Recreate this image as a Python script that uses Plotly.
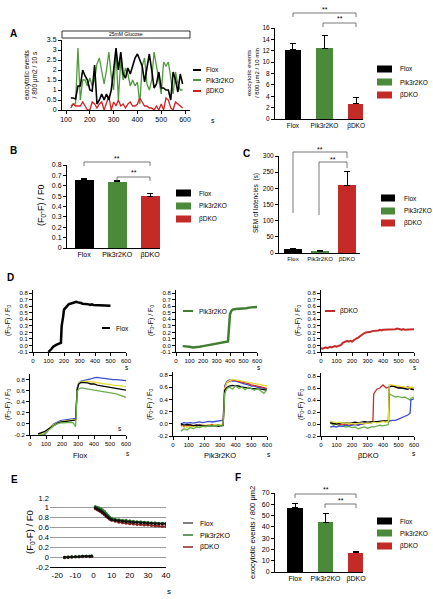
import plotly.graph_objects as go

W, H = 433, 599
FONT = "Liberation Sans"
BLACK = "#000000"
GREEN_BAR = "#4a8a3a"
RED_BAR = "#c42a26"

# ---------------- DATA ----------------
groups = ["Flox", "Pik3r2KO", "βDKO"]

# Panel A (time course, events / 10 s)
a_time = [120, 130, 140, 150, 160, 170, 180, 190, 200, 210, 220, 230, 240, 250, 260, 270,
          280, 290, 300, 310, 320, 330, 340, 350, 360, 370, 380, 390, 400, 410, 420, 430,
          440, 450, 460, 470, 480, 490, 500, 510, 520, 530, 540, 550, 560, 570, 580, 590]
a_flox = [0.6, 0.6, 0.55, 1.2, 1.2, 2.0, 1.7, 1.5, 1.0, 0.95, 2.25, 0.3, 0.5, 0.8, 0.5, 0.8,
          0.5, 1.0, 2.0, 3.1, 2.0, 2.9, 1.8, 1.6, 2.1, 1.8, 2.2, 2.6, 2.8, 2.5, 2.2, 1.4,
          2.2, 2.8, 2.0, 1.1, 1.3, 1.9, 1.1, 1.1, 1.0, 1.0, 0.5, 1.9, 1.5, 0.9, 1.8, 1.3]
a_pik = [0.2, 0.3, 0.3, 3.1, 0.5, 1.5, 1.5, 1.2, 1.6, 1.2, 1.5, 2.3, 2.6, 1.9, 1.3, 2.0,
         2.9, 1.7, 1.0, 2.9, 0.5, 2.5, 1.5, 2.1, 1.8, 1.2, 1.5, 1.2, 1.4, 0.3, 2.2, 2.6,
         1.3, 1.0, 1.5, 2.9, 2.2, 1.5, 0.8, 2.4, 2.2, 2.4, 1.6, 0.8, 1.9, 1.3, 1.0, 1.0]
a_bdko = [0.1, 0.3, 0.2, 0.2, 0.2, 0.4, 0.2, 0.0, 0.0, 0.4, 0.3, 0.1, 0.3, 0.4, 0.0, 0.3,
          0.7, 0.0, 0.4, 0.2, 0.5, 0.2, 0.3, 0.1, 0.3, 0.4, 0.2, 0.2, 0.3, 0.6, 0.4, 0.2,
          0.2, 0.1, 0.1, 0.0, 0.2, 0.0, 0.3, 0.0, 0.6, 0.5, 0.1, 0.0, 0.4, 0.3, 0.2, 0.1]

# Panel A bars (events / 10 min)
a_bar_mean = [12.2, 12.4, 2.7]
a_bar_err = [1.1, 2.3, 1.1]
# Panel B
b_mean = [0.66, 0.64, 0.50]
b_err = [0.01, 0.01, 0.025]
# Panel C
c_mean = [13, 6, 210]
c_err = [2, 1, 42]
# Panel F
f_mean = [57, 44, 17]
f_err = [4, 8, 1]

# Panel D top
d1_t = [100, 110, 120, 130, 140, 150, 160, 170, 180, 185, 190, 195, 200, 210, 220, 230, 240,
        250, 260, 270, 280, 290, 300, 310, 320, 330, 340, 350, 360, 370, 380, 390, 400, 410,
        420, 430, 440, 450, 460, 470, 480, 490, 500]
d1_flox = [-0.10, -0.08, -0.05, -0.02, 0.0, 0.01, 0.02, 0.03, 0.04, 0.30, 0.35, 0.45, 0.55,
           0.58, 0.61, 0.63, 0.64, 0.65, 0.66, 0.67, 0.67, 0.66, 0.66, 0.65, 0.64, 0.64, 0.63,
           0.63, 0.63, 0.62, 0.63, 0.62, 0.62, 0.61, 0.62, 0.61, 0.62, 0.61, 0.61, 0.62, 0.61,
           0.62, 0.61]
d2_t = [50, 75, 100, 125, 150, 175, 200, 225, 250, 275, 300, 325, 350, 375, 385, 390, 395, 400,
        410, 420, 440, 460, 480, 500, 520, 540, 560, 580, 600]
d2_pik = [-0.01, -0.01, -0.02, -0.03, -0.03, -0.02, -0.01, 0.0, 0.01, 0.02, 0.03, 0.03, 0.04,
          0.05, 0.06, 0.2, 0.4, 0.48, 0.53, 0.55, 0.56, 0.56, 0.56, 0.57, 0.57, 0.58, 0.58,
          0.59, 0.59]
d3_t = [0, 10, 20, 30, 40, 50, 60, 70, 80, 90, 100, 110, 120, 130, 140, 150, 160, 170, 180, 190,
        200, 210, 220, 230, 240, 250, 260, 270, 280, 290, 300, 310, 320, 330, 340, 350, 360, 370,
        380, 390, 400, 410, 420, 430, 440, 450, 460, 470, 480, 490, 500, 510, 520, 530, 540, 550,
        560, 570, 580, 590, 600]
d3_bdko = [-0.04, -0.05, -0.04, -0.03, -0.04, -0.03, -0.02, -0.03, -0.02, -0.01, -0.02, -0.01,
           0.0, 0.01, 0.04, 0.05, 0.05, 0.07, 0.06, 0.07, 0.06, 0.08, 0.1, 0.11, 0.12, 0.14, 0.15,
           0.17, 0.19, 0.2, 0.2, 0.21, 0.21, 0.22, 0.22, 0.22, 0.23, 0.23, 0.24, 0.23, 0.24, 0.24,
           0.25, 0.24, 0.24, 0.25, 0.24, 0.25, 0.25, 0.26, 0.26, 0.25, 0.24, 0.25, 0.24, 0.24,
           0.25, 0.24, 0.25, 0.24, 0.25]

# Panel D bottom: individual cells
d4_t = [50, 70, 90, 110, 130, 150, 170, 190, 210, 230, 250, 270, 285, 295, 305, 320, 340, 360,
        380, 400, 420, 440, 460, 480, 500, 520, 540, 560, 580, 600]
d4_cells = {
    "#3c4fd0": [-0.2, -0.2, -0.2, -0.13, -0.05, 0.0, 0.03, 0.06, 0.07, 0.08, 0.08, 0.09, 0.1,
                0.66, 0.74, 0.77, 0.78, 0.8, 0.81, 0.83, 0.84, 0.83, 0.82, 0.82, 0.81, 0.8, 0.8,
                0.79, 0.79, 0.78],
    "#e6dc3c": [-0.2, -0.18, -0.16, -0.11, -0.05, -0.01, 0.02, 0.04, 0.05, 0.06, 0.06, 0.07,
                0.08, 0.64, 0.74, 0.76, 0.77, 0.77, 0.76, 0.75, 0.74, 0.73, 0.72, 0.71, 0.71,
                0.7, 0.69, 0.69, 0.68, 0.67],
    "#000000": [-0.18, -0.16, -0.14, -0.10, -0.06, -0.02, 0.01, 0.03, 0.04, 0.05, 0.06, 0.06,
                0.07, 0.62, 0.72, 0.75, 0.75, 0.74, 0.72, 0.72, 0.70, 0.69, 0.68, 0.67, 0.66,
                0.65, 0.64, 0.63, 0.62, 0.61],
    "#6ab04a": [-0.2, -0.2, -0.18, -0.13, -0.07, -0.03, 0.0, 0.02, 0.02, 0.03, 0.03, 0.02,
                -0.05, 0.58, 0.63, 0.65, 0.64, 0.63, 0.62, 0.62, 0.6, 0.6, 0.58, 0.57, 0.56,
                0.55, 0.54, 0.52, 0.5, 0.48],
}
d5_t = [50, 70, 90, 110, 130, 150, 170, 190, 210, 230, 250, 270, 290, 310, 320, 330, 345, 360,
        380, 400, 420, 440, 460, 480, 500, 520, 540, 560, 580, 600]
d5_cells = {
    "#3c4fd0": [0.0, 0.02, 0.01, 0.02, 0.01, 0.02, 0.03, 0.02, 0.03, 0.04, 0.03, 0.04, 0.05,
                0.05, 0.06, 0.62, 0.7, 0.72, 0.7, 0.7, 0.68, 0.66, 0.65, 0.64, 0.62, 0.62, 0.6,
                0.6, 0.58, 0.56],
    "#d02a2a": [-0.02, -0.05, -0.03, -0.02, -0.03, -0.04, -0.02, -0.03, -0.03, -0.02, -0.01,
                -0.03, -0.02, -0.03, -0.02, 0.6, 0.68, 0.7, 0.72, 0.71, 0.7, 0.68, 0.67, 0.66,
                0.64, 0.63, 0.62, 0.61, 0.6, 0.58],
    "#e6dc3c": [-0.05, -0.03, -0.06, -0.04, -0.05, -0.03, -0.04, -0.02, -0.03, -0.02, -0.03,
                -0.01, -0.02, -0.01, 0.0, 0.58, 0.68, 0.71, 0.73, 0.72, 0.71, 0.7, 0.69, 0.67,
                0.66, 0.65, 0.64, 0.63, 0.62, 0.62],
    "#000000": [0.0, -0.02, -0.01, -0.02, -0.03, -0.02, -0.03, -0.03, -0.04, -0.03, -0.04,
                -0.03, -0.04, -0.03, -0.03, 0.55, 0.6, 0.62, 0.63, 0.62, 0.62, 0.6, 0.6, 0.59,
                0.58, 0.58, 0.57, 0.57, 0.56, 0.55],
    "#6ab04a": [-0.12, -0.08, -0.1, -0.06, -0.08, -0.05, -0.06, -0.04, -0.05, -0.03, -0.04,
                -0.03, -0.02, -0.04, -0.02, 0.5, 0.58, 0.6, 0.57, 0.62, 0.58, 0.6, 0.56, 0.6,
                0.58, 0.55, 0.58, 0.54, 0.5, 0.56],
}
d6_t = [60, 80, 100, 120, 140, 160, 180, 200, 220, 240, 260, 280, 300, 320, 335, 340, 360, 380,
        400, 420, 435, 440, 460, 480, 500, 520, 540, 560, 575, 580, 600]
d6_cells = {
    "#d02a2a": [0.02, 0.0, 0.01, -0.01, 0.0, -0.02, 0.0, -0.01, 0.0, -0.02, 0.0, 0.01, 0.02,
                0.02, 0.03, 0.5, 0.58, 0.6, 0.65, 0.6, 0.62, 0.62, 0.64, 0.62, 0.62, 0.61, 0.6,
                0.62, 0.6, 0.6, 0.58],
    "#6ab04a": [0.03, -0.02, 0.0, -0.04, -0.03, -0.05, -0.04, -0.06, -0.05, -0.08, -0.06, -0.05,
                -0.07, -0.05, -0.04, -0.05, -0.03, -0.02, -0.03, -0.02, -0.01, 0.5, 0.48, 0.45,
                0.46, 0.44, 0.45, 0.42, 0.4, 0.43, 0.45],
    "#3c4fd0": [-0.05, -0.04, -0.05, -0.03, -0.04, -0.02, -0.03, -0.02, -0.01, -0.02, 0.0, 0.01,
                0.02, 0.02, 0.03, 0.03, 0.03, 0.04, 0.04, 0.05, 0.05, 0.05, 0.06, 0.06, 0.08,
                0.1, 0.12, 0.15, 0.18, 0.4, 0.42],
    "#000000": [0.02, 0.01, 0.0, 0.02, 0.01, 0.02, 0.01, 0.02, 0.03, 0.02, 0.03, 0.04, 0.03,
                0.04, 0.04, 0.04, 0.04, 0.05, 0.05, 0.05, 0.05, 0.62, 0.63, 0.62, 0.6, 0.6, 0.59,
                0.58, 0.6, 0.58, 0.57],
    "#e6dc3c": [0.05, 0.03, 0.02, 0.03, 0.01, 0.02, 0.0, 0.01, 0.0, 0.01, 0.02, 0.0, 0.02, 0.01,
                0.03, 0.03, 0.02, 0.03, 0.04, 0.03, 0.05, 0.66, 0.65, 0.64, 0.63, 0.62, 0.62,
                0.61, 0.6, 0.62, 0.6],
}

# Panel E (aligned events)
e_t = [-16, -14, -12, -10, -8, -6, -4, -2, -1, 0, 1, 2, 3, 4, 5, 6, 7, 8, 9, 10, 12, 14, 16,
       18, 20, 22, 24, 26, 28, 30, 32, 34, 36, 38, 40]
e_flox = [0.0, 0.0, 0.01, 0.01, 0.01, 0.02, 0.02, 0.02, 0.02, None, 1.0, 0.98, 0.96, 0.94,
          0.91, 0.88, 0.84, 0.81, 0.78, 0.76, 0.75, 0.74, 0.73, 0.72, 0.72, 0.71, 0.71, 0.7,
          0.7, 0.69, 0.69, 0.68, 0.68, 0.68, 0.67]
e_pik = [0.0, 0.01, 0.01, 0.01, 0.02, 0.02, 0.02, 0.02, 0.03, None, 1.03, 1.01, 1.0, 0.98,
         0.96, 0.93, 0.89, 0.85, 0.81, 0.79, 0.77, 0.76, 0.75, 0.75, 0.74, 0.73, 0.72, 0.72,
         0.71, 0.71, 0.7, 0.7, 0.69, 0.69, 0.69]
e_bdko = [-0.01, 0.0, 0.0, 0.01, 0.01, 0.01, 0.02, 0.01, 0.02, None, 0.98, 0.96, 0.94, 0.92,
          0.89, 0.86, 0.83, 0.8, 0.77, 0.75, 0.73, 0.71, 0.7, 0.69, 0.68, 0.67, 0.66, 0.66,
          0.65, 0.65, 0.64, 0.63, 0.63, 0.62, 0.62]

# ---------------- helpers ----------------
def X(p):
    return p / W


def Y(p):
    return 1 - p / H


fig = go.Figure()
layout = {}
shapes = []
annos = []


def axes(i, x0, x1, y0, y1, xr, yr, xtick=None, ytick=None, xfs=7, yfs=7,
         xticks="outside", grid=False):
    xa = dict(domain=[X(x0), X(x1)], range=xr, anchor=f"y{i}", showline=True,
              linecolor="black", linewidth=1, ticks=xticks, ticklen=3, tickcolor="black",
              showgrid=False, zeroline=False, tickangle=0, automargin=False,
              tickfont=dict(family=FONT, size=xfs, color="black"))
    ya = dict(domain=[Y(y1), Y(y0)], range=yr, anchor=f"x{i}", showline=True,
              linecolor="black", linewidth=1, ticks="outside", ticklen=3, tickcolor="black",
              showgrid=grid, gridcolor="#9a9a9a", zeroline=False, automargin=False,
              tickfont=dict(family=FONT, size=yfs, color="black"))
    if xtick is not None:
        xa.update(tickmode="array", tickvals=xtick[0], ticktext=xtick[1])
    if ytick is not None:
        ya.update(tickmode="array", tickvals=ytick[0], ticktext=ytick[1])
    layout[f"xaxis{i}"] = xa
    layout[f"yaxis{i}"] = ya


def txt(x, y, s, size=7, angle=0, bold=False, xanchor="center"):
    if bold:
        s = f"<b>{s}</b>"
    annos.append(dict(x=X(x), y=Y(y), xref="paper", yref="paper", text=s, showarrow=False,
                      textangle=angle, xanchor=xanchor, yanchor="middle",
                      font=dict(family=FONT, size=size, color="black")))


def box_legend(x0, x1, tx, ys, colors, names, size=6.5):
    for yy, c, n in zip(ys, colors, names):
        shapes.append(dict(type="rect", xref="paper", yref="paper", x0=X(x0), x1=X(x1),
                           y0=Y(yy + 3.5), y1=Y(yy - 3.5), fillcolor=c, line=dict(width=0)))
        txt(tx, yy, n, size=size, xanchor="left")


def line_legend(x0, x1, tx, ys, colors, names, size=6.5, width=2):
    for yy, c, n in zip(ys, colors, names):
        shapes.append(dict(type="line", xref="paper", yref="paper", x0=X(x0), x1=X(x1),
                           y0=Y(yy), y1=Y(yy), line=dict(color=c, width=width)))
        txt(tx, yy, n, size=size, xanchor="left")


def bracket(xa, xb, y, la, lb, star_y):
    for (x0, y0, x1, y1) in [(xa, la, xa, y), (xa, y, xb, y), (xb, y, xb, lb)]:
        shapes.append(dict(type="line", xref="paper", yref="paper", x0=X(x0), y0=Y(y0),
                           x1=X(x1), y1=Y(y1), line=dict(color="#555555", width=0.8)))
    txt((xa + xb) / 2, star_y, "**", size=7)


def bars(i, mean, err, width):
    fig.add_trace(go.Bar(x=[0, 1, 2], y=mean, width=width,
                         marker=dict(color=[BLACK, GREEN_BAR, RED_BAR], line=dict(width=0)),
                         error_y=dict(type="data", array=err, arrayminus=[0, 0, 0],
                                      symmetric=False, color="black", thickness=1, width=3),
                         xaxis=f"x{i}", yaxis=f"y{i}"))


cat_ticks = ([0, 1, 2], groups)
SUB = "(F<sub>0</sub>-F) / F<sub>0</sub>"

# ---------------- Panel A line ----------------
axes(1, 62, 190, 40, 110, [83, 621], [0, 3.5],
     xtick=([100, 200, 300, 400, 500, 600], ["100", "200", "300", "400", "500", "600"]),
     ytick=([0, 0.5, 1, 1.5, 2, 2.5, 3, 3.5], ["0", "0.5", "1", "1.5", "2", "2.5", "3", "3.5"]))
for ys, c, w in [(a_pik, "#4f9a3a", 1.3), (a_bdko, "#d42020", 1.3), (a_flox, BLACK, 1.6)]:
    fig.add_trace(go.Scatter(x=a_time, y=ys, mode="lines", line=dict(color=c, width=w),
                             xaxis="x1", yaxis="y1"))
shapes.append(dict(type="rect", xref="paper", yref="paper", x0=X(62), x1=X(190), y0=Y(38),
                   y1=Y(31), line=dict(color="black", width=0.8), fillcolor="white"))
txt(126, 34.5, "25mM Glucose", size=5)
txt(31, 75, "exocytotic events<br>/ 800 μm2 / 10 s", size=6.5, angle=-90)
txt(213, 121, "s", size=7)
txt(13, 33, "A", size=10, bold=True)
line_legend(193, 201, 204, [70, 80, 91], [BLACK, "#4f9a3a", "#d42020"], groups)

# ---------------- Panel A bars ----------------
axes(2, 275, 363, 28, 119, [-0.57, 2.22], [0, 16], xtick=cat_ticks, xticks="", xfs=6.5,
     yfs=6.5,
     ytick=([0, 2, 4, 6, 8, 10, 12, 14, 16], ["0", "2", "4", "6", "8", "10", "12", "14", "16"]))
bars(2, a_bar_mean, a_bar_err, 0.52)
txt(253, 73, "exocytotic events<br>/ 800 μm2 / 10 min", size=6, angle=-90)
box_legend(377, 392, 398, [69, 82, 95], [BLACK, GREEN_BAR, RED_BAR], groups)
bracket(293, 356, 13, 17, 17, 9)
bracket(323, 356, 23, 27, 27, 19)

# ---------------- Panel B ----------------
axes(3, 67, 160, 165, 248, [-0.52, 2.3], [0, 0.8], xtick=cat_ticks, xticks="",
     ytick=([0, 0.1, 0.2, 0.3, 0.4, 0.5, 0.6, 0.7, 0.8],
            ["0", "0.1", "0.2", "0.3", "0.4", "0.5", "0.6", "0.7", "0.8"]))
bars(3, b_mean, b_err, 0.58)
txt(42, 205, "(F<sub>0</sub>-F) / F0", size=9, angle=-90)
box_legend(176, 191, 197, [193, 206, 219], [BLACK, GREEN_BAR, RED_BAR], groups)
bracket(84, 150, 162, 166, 166, 158)
bracket(117, 150, 177, 181, 181, 173)
txt(13, 150, "B", size=10, bold=True)

# ---------------- Panel C ----------------
axes(4, 279, 360, 156, 253, [-0.52, 2.48], [0, 300], xtick=cat_ticks, xticks="", xfs=6,
     yfs=6.5,
     ytick=([0, 50, 100, 150, 200, 250, 300], ["0", "50", "100", "150", "200", "250", "300"]))
bars(4, c_mean, c_err, 0.7)
txt(256, 203, "SEM of latencies  (s)", size=6.5, angle=-90)
box_legend(381, 395, 402, [198, 211, 223], [BLACK, GREEN_BAR, RED_BAR], groups)
bracket(293, 347, 152, 213, 158, 149)
bracket(319, 347, 162, 215, 168, 159)
txt(247, 153, "C", size=10, bold=True)

# ---------------- Panel D top ----------------
dtick_top = ([-0.1, 0, 0.1, 0.2, 0.3, 0.4, 0.5, 0.6, 0.7, 0.8],
             ["-0.1", "0.0", "0.1", "0.2", "0.3", "0.4", "0.5", "0.6", "0.7", "0.8"])
tx600 = ([0, 100, 200, 300, 400, 500, 600], ["0", "100", "200", "300", "400", "500", "600"])
axes(5, 33, 126, 290, 352, [0, 600], [-0.1, 0.85], xtick=tx600, ytick=dtick_top, xfs=6, yfs=6)
axes(6, 176, 257, 290, 352, [0, 600], [-0.1, 0.85], xtick=tx600, ytick=dtick_top, xfs=6, yfs=6)
axes(7, 321, 414, 290, 352, [0, 600], [-0.1, 0.85], xtick=tx600, ytick=dtick_top, xfs=6, yfs=6)
fig.add_trace(go.Scatter(x=d1_t, y=d1_flox, mode="lines", line=dict(color=BLACK, width=2.5),
                         xaxis="x5", yaxis="y5"))
fig.add_trace(go.Scatter(x=d2_t, y=d2_pik, mode="lines", line=dict(color="#3f7f2f", width=2.5),
                         xaxis="x6", yaxis="y6"))
fig.add_trace(go.Scatter(x=d3_t, y=d3_bdko, mode="lines", line=dict(color="#c42a26", width=2),
                         xaxis="x7", yaxis="y7"))
for xx in [8, 151, 298]:
    txt(xx, 321, SUB, size=7, angle=-90)
line_legend(102, 110, 114, [328], [BLACK], ["Flox"], width=2)
line_legend(183, 193, 197, [311], ["#3f7f2f"], ["Pik3r2KO"], width=2)
line_legend(325, 335, 338, [311], ["#c42a26"], ["βDKO"], width=2)
for xx in [127, 259, 415]:
    txt(xx, 367, "s", size=6.5)
txt(10, 278, "D", size=10, bold=True)

# ---------------- Panel D bottom ----------------
dtick_bot = ([-0.2, 0, 0.2, 0.4, 0.6, 0.8], ["-0.2", "0.0", "0.2", "0.4", "0.6", "0.8"])
axes(8, 30, 126, 374, 435, [0, 600], [-0.2, 0.9], xtick=tx600, ytick=dtick_bot, xfs=6, yfs=6)
axes(9, 173, 267, 372, 436, [0, 600], [-0.2, 0.85], xtick=tx600, ytick=dtick_bot, xfs=6, yfs=6)
axes(10, 321, 414, 373, 436, [0, 600], [-0.2, 0.85], xtick=tx600, ytick=dtick_bot, xfs=6, yfs=6)
for i, t, cells in [(8, d4_t, d4_cells), (9, d5_t, d5_cells), (10, d6_t, d6_cells)]:
    for c, ys in cells.items():
        fig.add_trace(go.Scatter(x=t, y=ys, mode="lines", line=dict(color=c, width=1.3),
                                 xaxis=f"x{i}", yaxis=f"y{i}"))
for xx in [8, 150, 301]:
    txt(xx, 405, SUB, size=7, angle=-90)
txt(80, 455, "Flox", size=7.5)
txt(220, 455, "Pik3r2KO", size=7.5)
txt(368, 455, "βDKO", size=7.5)
txt(120, 428, "s", size=6.5)
txt(128, 453, "s", size=6.5)
txt(269, 454, "s", size=6.5)
txt(414, 453, "s", size=6.5)

# ---------------- Panel E ----------------
axes(11, 50, 166, 498, 567, [-24, 40], [-0.2, 1.2],
     xtick=([-20, -10, 0, 10, 20, 30, 40], ["-20", "-10", "0", "10", "20", "30", "40"]),
     ytick=([-0.2, 0, 0.2, 0.4, 0.6, 0.8, 1.0, 1.2],
            ["-0.2", "0", "0.2", "0.4", "0.6", "0.8", "1", "1.2"]),
     xfs=8, yfs=7.5, grid=True)
layout["yaxis11"]["showline"] = False
layout["yaxis11"]["ticks"] = ""
layout["xaxis11"]["ticks"] = ""
for ys, c in [(e_bdko, "#8b2525"), (e_pik, "#2f7a2a"), (e_flox, "#111111")]:
    fig.add_trace(go.Scatter(x=e_t, y=ys, mode="lines+markers", connectgaps=False,
                             line=dict(color=c, width=1.5), marker=dict(color=c, size=3),
                             xaxis="x11", yaxis="y11"))
txt(30, 532, "(F<sub>0</sub>-F) / F0", size=9.5, angle=-90)
line_legend(183, 193, 198, [523, 535, 547], ["#555555", "#2f7a2a", "#8b2525"], groups,
            size=7, width=1.5)
txt(169, 591, "s", size=8)
txt(15, 479, "E", size=10, bold=True)

# ---------------- Panel F ----------------
axes(12, 275, 363, 493, 572, [-0.66, 2.23], [0, 70], xtick=cat_ticks, xticks="",
     ytick=([0, 10, 20, 30, 40, 50, 60, 70], ["0", "10", "20", "30", "40", "50", "60", "70"]))
bars(12, f_mean, f_err, 0.5)
txt(252, 533, "exocytotic events / 800 μm2", size=7.5, angle=-90)
box_legend(377, 392, 398, [521, 533, 546], [BLACK, GREEN_BAR, RED_BAR], groups)
bracket(295, 356, 494, 498, 498, 490)
bracket(325, 356, 504, 508, 508, 500)
txt(238, 477, "F", size=10, bold=True)

fig.update_layout(width=W, height=H, margin=dict(l=0, r=0, t=0, b=0),
                  paper_bgcolor="white", plot_bgcolor="white", showlegend=False,
                  shapes=shapes, annotations=annos, bargap=0,
                  font=dict(family=FONT, size=7, color="black"), **layout)
fig.write_html("out.html", config={"displayModeBar": False},
               post_script="document.body.style.margin='0';document.body.style.overflow='hidden';")
